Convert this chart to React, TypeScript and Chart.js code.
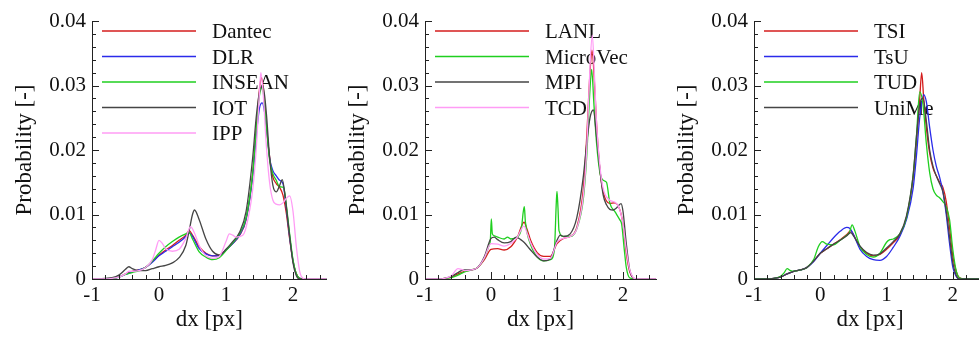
import React, { useEffect, useRef } from "react";
import { Chart, registerables } from "chart.js";

Chart.register(...registerables);

type Pt = [number, number];

// ---------- Panel 1 ----------
const dantec: Pt[] = [[-1,0],[-0.8,0],[-0.7,0.0001],[-0.6,0.0003],[-0.5,0.0008],[-0.4,0.0012],[-0.3,0.0014],[-0.2,0.0018],[-0.1,0.0027],[0,0.0037],[0.1,0.0045],[0.2,0.0052],[0.3,0.006],[0.4,0.0068],[0.45,0.0075],[0.5,0.0068],[0.6,0.005],[0.7,0.004],[0.8,0.0036],[0.9,0.0037],[1.0,0.0045],[1.1,0.0055],[1.2,0.0067],[1.3,0.0092],[1.4,0.0165],[1.45,0.023],[1.5,0.0295],[1.53,0.0312],[1.57,0.028],[1.6,0.024],[1.65,0.019],[1.7,0.0158],[1.75,0.0148],[1.8,0.0142],[1.85,0.013],[1.9,0.0102],[1.95,0.0062],[2.0,0.0028],[2.05,0.0008],[2.1,0.0001],[2.2,0],[2.5,0]];
const dlr: Pt[] = [[-1,0],[-0.8,0],[-0.7,0.0001],[-0.6,0.0003],[-0.5,0.0007],[-0.4,0.0011],[-0.3,0.0014],[-0.2,0.0018],[-0.1,0.0026],[0,0.0036],[0.1,0.0043],[0.2,0.005],[0.3,0.0057],[0.4,0.0066],[0.45,0.0072],[0.5,0.0066],[0.6,0.0047],[0.7,0.0039],[0.8,0.0036],[0.9,0.0036],[1.0,0.0045],[1.1,0.0055],[1.2,0.0068],[1.3,0.0093],[1.4,0.016],[1.45,0.022],[1.5,0.0265],[1.54,0.0273],[1.6,0.024],[1.65,0.0188],[1.7,0.0168],[1.75,0.016],[1.8,0.0153],[1.85,0.0148],[1.9,0.011],[1.95,0.0065],[2.0,0.0028],[2.05,0.0007],[2.1,0.0001],[2.2,0],[2.5,0]];
const insean: Pt[] = [[-1,0],[-0.8,0],[-0.7,0.0001],[-0.6,0.0003],[-0.5,0.0007],[-0.4,0.001],[-0.3,0.0013],[-0.2,0.0018],[-0.1,0.0028],[0,0.004],[0.1,0.005],[0.2,0.0058],[0.3,0.0065],[0.4,0.007],[0.45,0.0072],[0.5,0.0062],[0.6,0.0042],[0.7,0.0034],[0.8,0.003],[0.9,0.0033],[1.0,0.0044],[1.1,0.0056],[1.2,0.007],[1.3,0.0095],[1.4,0.0165],[1.45,0.023],[1.5,0.0285],[1.54,0.0296],[1.6,0.024],[1.65,0.0185],[1.7,0.0163],[1.75,0.0153],[1.8,0.0143],[1.86,0.0142],[1.9,0.0115],[1.95,0.007],[2.0,0.003],[2.05,0.0008],[2.1,0.0001],[2.2,0],[2.5,0]];
const iot: Pt[] = [[-1,0],[-0.8,0.0001],[-0.7,0.0002],[-0.6,0.0006],[-0.5,0.0015],[-0.45,0.0019],[-0.4,0.0016],[-0.3,0.0013],[-0.2,0.0013],[-0.1,0.0016],[0,0.0019],[0.1,0.0021],[0.2,0.0025],[0.3,0.0033],[0.4,0.0052],[0.45,0.0075],[0.5,0.01],[0.53,0.0107],[0.6,0.0092],[0.7,0.0062],[0.8,0.0043],[0.9,0.0037],[1.0,0.0046],[1.1,0.0058],[1.2,0.0072],[1.3,0.0105],[1.4,0.019],[1.45,0.025],[1.5,0.029],[1.55,0.03],[1.6,0.026],[1.65,0.019],[1.7,0.0145],[1.75,0.0135],[1.8,0.0145],[1.84,0.0154],[1.88,0.013],[1.93,0.0085],[2.0,0.0025],[2.05,0.0005],[2.1,0],[2.5,0]];
const ipp: Pt[] = [[-1,0],[-0.8,0],[-0.7,0.0001],[-0.6,0.0003],[-0.5,0.0008],[-0.45,0.0012],[-0.4,0.0012],[-0.3,0.0013],[-0.2,0.0018],[-0.1,0.003],[-0.05,0.0045],[0,0.006],[0.05,0.0055],[0.1,0.0047],[0.2,0.0043],[0.3,0.0046],[0.4,0.0063],[0.47,0.0081],[0.55,0.0066],[0.6,0.0052],[0.7,0.0036],[0.8,0.0032],[0.9,0.0035],[1.0,0.0058],[1.05,0.007],[1.1,0.0068],[1.15,0.0065],[1.25,0.0068],[1.3,0.008],[1.4,0.014],[1.45,0.02],[1.5,0.029],[1.52,0.032],[1.56,0.028],[1.6,0.021],[1.65,0.015],[1.7,0.0122],[1.75,0.0116],[1.8,0.0115],[1.85,0.0118],[1.9,0.0125],[1.95,0.0129],[2.0,0.0105],[2.05,0.005],[2.1,0.0012],[2.15,0.0001],[2.2,0],[2.5,0]];

// ---------- Panel 2 ----------
const lanl: Pt[] = [[-1,0],[-0.8,0],[-0.7,0.0001],[-0.6,0.0003],[-0.5,0.0008],[-0.4,0.0012],[-0.3,0.0014],[-0.2,0.0018],[-0.1,0.003],[0,0.0046],[0.1,0.0047],[0.2,0.0045],[0.3,0.005],[0.4,0.0065],[0.5,0.0088],[0.55,0.0076],[0.6,0.006],[0.7,0.0041],[0.8,0.0035],[0.9,0.0035],[1.0,0.0055],[1.1,0.0063],[1.2,0.0066],[1.3,0.008],[1.4,0.014],[1.45,0.022],[1.5,0.032],[1.53,0.0355],[1.57,0.03],[1.6,0.024],[1.65,0.017],[1.7,0.0135],[1.8,0.0117],[1.87,0.0118],[1.95,0.0108],[2.0,0.0085],[2.05,0.004],[2.1,0.0012],[2.15,0.0002],[2.2,0],[2.5,0]];
const microVec: Pt[] = [[-1,0],[-0.8,0],[-0.7,0.0001],[-0.6,0.0002],[-0.5,0.0006],[-0.4,0.0011],[-0.3,0.0014],[-0.2,0.0018],[-0.1,0.0033],[-0.03,0.0052],[-0.01,0.006],[0.005,0.0093],[0.02,0.007],[0.05,0.0067],[0.1,0.0065],[0.2,0.0062],[0.25,0.0065],[0.3,0.0062],[0.4,0.0065],[0.46,0.0078],[0.49,0.0105],[0.505,0.0112],[0.52,0.009],[0.55,0.007],[0.6,0.0053],[0.7,0.0034],[0.8,0.0028],[0.9,0.003],[0.96,0.0045],[0.99,0.012],[1.0,0.0136],[1.015,0.011],[1.03,0.0075],[1.1,0.0066],[1.2,0.0066],[1.3,0.0078],[1.4,0.0125],[1.45,0.019],[1.5,0.0295],[1.525,0.0325],[1.56,0.027],[1.6,0.021],[1.65,0.0165],[1.7,0.0153],[1.75,0.015],[1.8,0.0118],[1.88,0.0104],[1.95,0.0092],[1.98,0.0085],[2.02,0.0045],[2.05,0.0018],[2.1,0.0002],[2.2,0],[2.5,0]];
const mpi: Pt[] = [[-1,0],[-0.8,0],[-0.7,0.0001],[-0.6,0.0004],[-0.5,0.001],[-0.45,0.0013],[-0.4,0.0014],[-0.3,0.0014],[-0.2,0.0018],[-0.1,0.0035],[0,0.0063],[0.05,0.0065],[0.1,0.0061],[0.2,0.0056],[0.3,0.0058],[0.38,0.0065],[0.45,0.0061],[0.5,0.0057],[0.6,0.0045],[0.7,0.0034],[0.8,0.0028],[0.9,0.0031],[1.0,0.006],[1.05,0.0068],[1.1,0.0066],[1.2,0.007],[1.3,0.0095],[1.4,0.016],[1.45,0.021],[1.5,0.025],[1.55,0.0262],[1.6,0.022],[1.65,0.017],[1.7,0.013],[1.75,0.0115],[1.8,0.0108],[1.85,0.0107],[1.9,0.011],[1.97,0.0117],[2.0,0.0105],[2.05,0.0055],[2.1,0.0015],[2.15,0.0002],[2.2,0],[2.5,0]];
const tcd: Pt[] = [[-1,0],[-0.8,0],[-0.7,0.0001],[-0.6,0.0005],[-0.5,0.0016],[-0.45,0.0015],[-0.4,0.0013],[-0.3,0.0014],[-0.2,0.0018],[-0.1,0.0033],[0,0.0055],[0.1,0.0054],[0.2,0.0051],[0.3,0.0055],[0.4,0.0065],[0.5,0.0082],[0.55,0.007],[0.6,0.0056],[0.7,0.0038],[0.8,0.0031],[0.9,0.0032],[1.0,0.0057],[1.1,0.0063],[1.2,0.0066],[1.3,0.0078],[1.4,0.013],[1.45,0.02],[1.5,0.033],[1.535,0.0378],[1.57,0.031],[1.6,0.024],[1.65,0.0175],[1.7,0.014],[1.8,0.0122],[1.88,0.0119],[1.95,0.0108],[2.0,0.0085],[2.05,0.0045],[2.1,0.0015],[2.15,0.0003],[2.2,0],[2.5,0]];

// ---------- Panel 3 ----------
const tsi: Pt[] = [[-1,0],[-0.8,0],[-0.7,0.0001],[-0.6,0.0003],[-0.5,0.0008],[-0.4,0.0012],[-0.3,0.0014],[-0.2,0.0018],[-0.1,0.0028],[0,0.004],[0.1,0.0047],[0.2,0.0054],[0.3,0.0061],[0.4,0.0069],[0.46,0.0075],[0.5,0.0069],[0.6,0.005],[0.7,0.004],[0.8,0.0036],[0.9,0.0038],[1.0,0.0046],[1.1,0.0056],[1.2,0.0068],[1.3,0.0095],[1.4,0.0155],[1.45,0.021],[1.5,0.028],[1.53,0.032],[1.56,0.028],[1.6,0.0235],[1.65,0.0195],[1.7,0.0172],[1.75,0.016],[1.8,0.015],[1.85,0.0142],[1.9,0.012],[1.95,0.008],[2.0,0.0035],[2.05,0.0012],[2.1,0.0002],[2.2,0],[2.5,0]];
const tsu: Pt[] = [[-1,0],[-0.8,0],[-0.7,0.0001],[-0.6,0.0003],[-0.5,0.0008],[-0.4,0.0012],[-0.3,0.0014],[-0.2,0.0018],[-0.1,0.0027],[0,0.004],[0.1,0.0052],[0.2,0.0064],[0.3,0.0074],[0.4,0.008],[0.45,0.0078],[0.5,0.0069],[0.6,0.0046],[0.7,0.0035],[0.8,0.003],[0.9,0.0029],[1.0,0.0035],[1.1,0.0049],[1.2,0.0066],[1.3,0.0092],[1.4,0.014],[1.45,0.019],[1.5,0.025],[1.56,0.0286],[1.6,0.0275],[1.65,0.0235],[1.7,0.02],[1.75,0.0175],[1.8,0.0158],[1.85,0.0135],[1.9,0.01],[1.95,0.0055],[2.0,0.0018],[2.05,0.0004],[2.1,0],[2.5,0]];
const tud: Pt[] = [[-1,0],[-0.8,0],[-0.7,0.0001],[-0.6,0.0004],[-0.55,0.0009],[-0.5,0.0016],[-0.45,0.0013],[-0.4,0.0012],[-0.3,0.0014],[-0.2,0.0018],[-0.1,0.003],[-0.03,0.005],[0.03,0.0058],[0.1,0.0054],[0.2,0.0053],[0.3,0.006],[0.4,0.0068],[0.44,0.0072],[0.48,0.0084],[0.52,0.0075],[0.6,0.005],[0.7,0.0038],[0.8,0.0034],[0.9,0.004],[1.0,0.0057],[1.05,0.0061],[1.1,0.0062],[1.2,0.007],[1.3,0.0095],[1.4,0.016],[1.45,0.022],[1.5,0.029],[1.55,0.027],[1.6,0.021],[1.65,0.0165],[1.7,0.014],[1.75,0.013],[1.8,0.0126],[1.85,0.012],[1.9,0.0112],[1.95,0.0092],[2.0,0.0045],[2.05,0.0013],[2.1,0.0002],[2.2,0],[2.5,0]];
const uniMe: Pt[] = [[-1,0],[-0.8,0],[-0.7,0.0001],[-0.6,0.0003],[-0.5,0.0008],[-0.4,0.0012],[-0.3,0.0014],[-0.2,0.0018],[-0.1,0.0028],[0,0.004],[0.1,0.0047],[0.2,0.0054],[0.3,0.006],[0.4,0.0067],[0.46,0.0072],[0.5,0.0067],[0.6,0.0051],[0.7,0.0041],[0.8,0.0037],[0.9,0.0039],[1.0,0.0048],[1.1,0.0058],[1.2,0.007],[1.3,0.0098],[1.4,0.016],[1.45,0.022],[1.5,0.027],[1.55,0.028],[1.6,0.0245],[1.65,0.02],[1.7,0.0175],[1.75,0.016],[1.8,0.0148],[1.85,0.0135],[1.9,0.0105],[1.95,0.0065],[2.0,0.0025],[2.05,0.0006],[2.1,0],[2.5,0]];

// ---------- axes ----------
const xMin = -1;
const xMax = 2.5;
const yMin = 0;
const yMax = 0.04;
const xMajorStep = 1;
const xMinorPerMajor = 5;
const yMajorStep = 0.01;
const yMinorPerMajor = 5;
const xTitle = "dx [px]";
const yTitle = "Probability [-]";

const RED = "#d41c1c";
const BLUE = "#2b2bea";
const GREEN = "#1fcf1f";
const DARK = "#454545";
const PINK = "#ff9cf5";

const SERIF = '"Liberation Serif", "Times New Roman", Times, serif';

interface Series { label: string; data: Pt[]; color: string; }
interface PanelCfg { series: Series[]; left: number; width: number; padRight: number; }

const panels: PanelCfg[] = [
  {
    left: 0, width: 330, padRight: 3.5,
    series: [
      { label: "Dantec", data: dantec, color: RED },
      { label: "DLR", data: dlr, color: BLUE },
      { label: "INSEAN", data: insean, color: GREEN },
      { label: "IOT", data: iot, color: DARK },
      { label: "IPP", data: ipp, color: PINK },
    ],
  },
  {
    left: 333, width: 327, padRight: 4,
    series: [
      { label: "LANL", data: lanl, color: RED },
      { label: "MicroVec", data: microVec, color: GREEN },
      { label: "MPI", data: mpi, color: DARK },
      { label: "TCD", data: tcd, color: PINK },
    ],
  },
  {
    left: 662, width: 327, padRight: 3,
    series: [
      { label: "TSI", data: tsi, color: RED },
      { label: "TsU", data: tsu, color: BLUE },
      { label: "TUD", data: tud, color: GREEN },
      { label: "UniMe", data: uniMe, color: DARK },
    ],
  },
];

function minorTicks(min: number, max: number, major: number, per: number, includeMax: boolean) {
  const step = major / per;
  const out: { value: number }[] = [];
  const n = Math.floor((max - min) / step + 1e-9);
  for (let i = 0; i <= n; i++) {
    const v = Math.round((min + i * step) * 1e6) / 1e6;
    if (v < max - 1e-9 || (includeMax && Math.abs(v - max) < 1e-9)) out.push({ value: v });
  }
  return out;
}

function isMajor(v: number, major: number) {
  const r = v / major;
  return Math.abs(r - Math.round(r)) < 1e-6;
}

const AXIS_COLOR = "#222";

const tickMarks = {
  id: "tickMarks",
  afterDatasetsDraw(chart: any) {
    const ctx = chart.ctx;
    const xs = chart.scales.x;
    const ys = chart.scales.y;
    const area = chart.chartArea;
    ctx.save();
    ctx.strokeStyle = AXIS_COLOR;
    ctx.lineWidth = 1;
    ctx.beginPath();
    for (const t of xs.ticks) {
      const px = Math.round(xs.getPixelForValue(t.value)) + 0.5;
      const len = isMajor(t.value, xMajorStep) ? 7 : 4;
      ctx.moveTo(px, area.bottom);
      ctx.lineTo(px, area.bottom - len);
    }
    for (const t of ys.ticks) {
      const py = Math.round(ys.getPixelForValue(t.value)) + 0.5;
      const len = isMajor(t.value, yMajorStep) ? 7 : 4;
      ctx.moveTo(area.left, py);
      ctx.lineTo(area.left + len, py);
    }
    ctx.stroke();
    ctx.restore();
  },
};

const insideLegend = {
  id: "insideLegend",
  beforeDatasetsDraw(chart: any) {
    const ctx = chart.ctx;
    const area = chart.chartArea;
    ctx.save();
    ctx.font = `21px ${SERIF}`;
    ctx.textBaseline = "alphabetic";
    ctx.textAlign = "left";
    chart.data.datasets.forEach((ds: any, i: number) => {
      const cy = area.top + 10 + i * 25.5;
      ctx.strokeStyle = ds.borderColor;
      ctx.lineWidth = 1.3;
      ctx.beginPath();
      ctx.moveTo(area.left + 10, cy);
      ctx.lineTo(area.left + 104, cy);
      ctx.stroke();
      ctx.fillStyle = "#111";
      ctx.fillText(ds.label, area.left + 120, cy + 7);
    });
    ctx.restore();
  },
};

function Panel({ cfg }: { cfg: PanelCfg }) {
  const ref = useRef<HTMLCanvasElement>(null);
  useEffect(() => {
    const n = cfg.series.length;
    const chart = new Chart(ref.current as HTMLCanvasElement, {
      type: "line",
      data: {
        datasets: cfg.series.map((s, i) => ({
          label: s.label,
          data: s.data.map(([x, y]) => ({ x, y })),
          borderColor: s.color,
          backgroundColor: s.color,
          borderWidth: 1.3,
          pointRadius: 0,
          fill: false,
          cubicInterpolationMode: "monotone" as const,
          order: n - i,
        })),
      },
      options: {
        animation: false,
        responsive: false,
        maintainAspectRatio: false,
        events: [],
        layout: { padding: { left: 11, top: 21, right: cfg.padRight, bottom: 3 } },
        plugins: { legend: { display: false }, tooltip: { enabled: false } },
        scales: {
          x: {
            type: "linear",
            min: xMin,
            max: xMax,
            bounds: "data",
            afterBuildTicks: (s: any) => { s.ticks = minorTicks(xMin, xMax, xMajorStep, xMinorPerMajor, false); },
            afterFit: (s: any) => { s.height = 55; },
            grid: { drawOnChartArea: false, drawTicks: false },
            border: { display: true, color: AXIS_COLOR, width: 1 },
            ticks: {
              autoSkip: false,
              maxRotation: 0,
              minRotation: 0,
              padding: 4,
              color: "#111",
              font: { family: SERIF, size: 21 },
              callback: (v: any) => (isMajor(Number(v), xMajorStep) ? String(Math.round(Number(v))) : ""),
            },
            title: {
              display: true,
              text: xTitle,
              color: "#111",
              font: { family: SERIF, size: 23 },
              padding: { top: 0, bottom: 0 },
            },
          },
          y: {
            type: "linear",
            min: yMin,
            max: yMax,
            bounds: "data",
            afterBuildTicks: (s: any) => { s.ticks = minorTicks(yMin, yMax, yMajorStep, yMinorPerMajor, true); },
            afterFit: (s: any) => { s.width = 81; },
            grid: { drawOnChartArea: false, drawTicks: false },
            border: { display: true, color: AXIS_COLOR, width: 1 },
            ticks: {
              autoSkip: false,
              padding: 6,
              color: "#111",
              font: { family: SERIF, size: 21 },
              callback: (v: any) => {
                const num = Number(v);
                if (!isMajor(num, yMajorStep)) return "";
                return num === 0 ? "0" : num.toFixed(2);
              },
            },
            title: {
              display: true,
              text: yTitle,
              color: "#111",
              font: { family: SERIF, size: 23 },
              padding: { top: 0, bottom: 0 },
            },
          },
        },
      } as any,
      plugins: [insideLegend, tickMarks],
    });
    return () => chart.destroy();
  }, [cfg]);
  return (
    <canvas
      ref={ref}
      width={cfg.width}
      height={337}
      style={{ position: "absolute", left: cfg.left, top: 0, width: cfg.width, height: 337 }}
    />
  );
}

export default function App() {
  return (
    <div style={{ position: "absolute", left: 0, top: 0, width: 979, height: 337, overflow: "hidden", background: "#fff" }}>
      {panels.map((p, i) => (
        <Panel key={i} cfg={p} />
      ))}
    </div>
  );
}
